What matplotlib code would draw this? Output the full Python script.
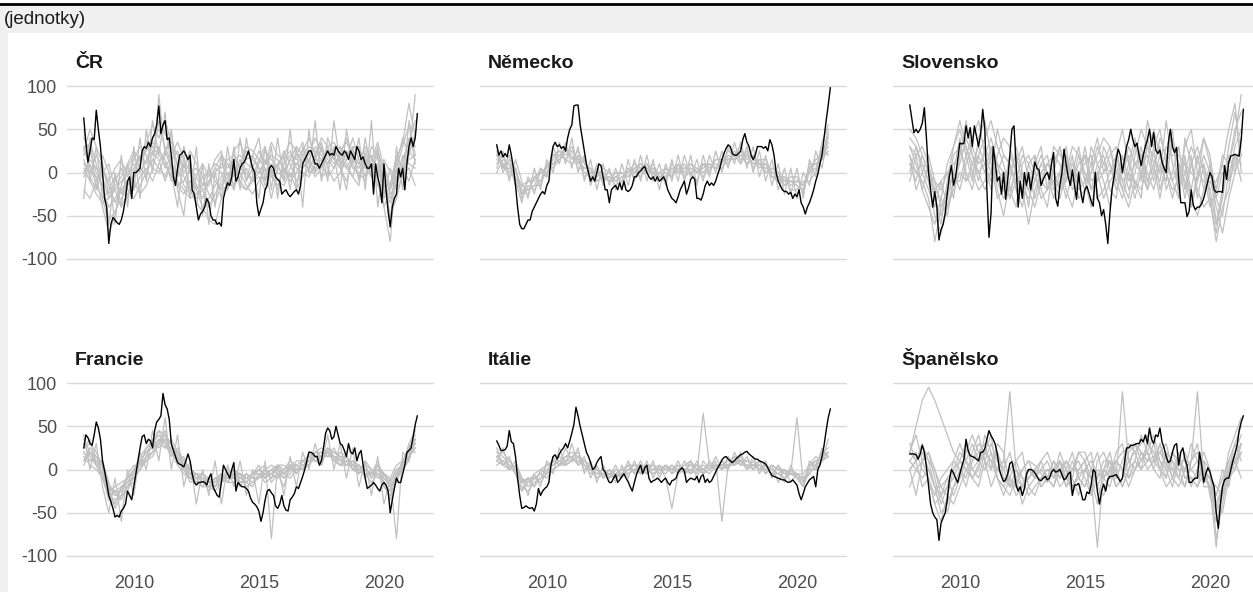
import numpy as np
import matplotlib
matplotlib.use("Agg")
import matplotlib.pyplot as plt
from matplotlib.patches import Rectangle
from matplotlib.lines import Line2D

plt.rcParams["font.family"] = ["Liberation Sans", "DejaVu Sans"]
plt.rcParams["axes.unicode_minus"] = False

W, H = 1253, 592

unit_label = "(jednotky)"
titles = ["ČR", "Německo", "Slovensko", "Francie", "Itálie", "Španělsko"]
year_ticks = [2010, 2015, 2020]
value_ticks = [-100, -50, 0, 50, 100]

# monthly index for each country, Jan 2008 - May 2021
cz_main = [63, 35, 12, 25, 40, 38, 72, 50, 30, 0, -30, -40,
           -82, -60, -52, -55, -58, -60, -55, -45, -30, -10, -5, -30,
           0, 0, 2, 5, 25, 30, 28, 35, 30, 40, 45, 55,
           77, 45, 55, 60, 38, 40, 20, -5, -15, 5, 20, 22,
           25, 20, 15, 20, -20, -25, -40, -55, -48, -45, -40, -30,
           -35, -50, -55, -55, -60, -58, -62, -30, -20, -12, -15, -5,
           15, -10, -5, 5, 10, 12, 18, 25, 15, 5, 0, -35,
           -50, -42, -35, -20, -15, 5, 8, 5, -5, -8, -10, -25,
           -22, -20, -25, -28, -25, -22, -20, -25, -15, 10, 15, 20,
           25, 25, 18, 10, 10, 5, 10, 15, 20, 25, 20, 22,
           20, 30, 25, 22, 20, 25, 22, 15, 25, 20, 15, 30,
           25, 15, 18, 10, 5, 5, 10, -25, 10, -5, -15, -35,
           10, -20, -45, -63, -40, -30, -25, 5, -5, 5, -20, 10,
           30, 40, 30, 40, 68]
de_main = [32, 20, 25, 18, 22, 18, 32, 20, 5, -15, -40, -60,
           -65, -65, -60, -55, -55, -45, -40, -35, -30, -25, -22, -25,
           -15, -10, 15, 30, 35, 30, 32, 28, 30, 25, 40, 50,
           55, 77, 78, 78, 55, 40, 25, 10, 0, -10, -5, -10,
           0, 10, 8, -5, -20, -20, -35, -20, -17, -15, -20, -12,
           -20, -10, -20, -22, -20, -15, -5, -5, 0, 2, 5, 7,
           0, -5, -8, -5, -10, -5, -10, -8, -5, -10, -20, -25,
           -30, -32, -35, -28, -20, -15, -10, -25, -18, -8, -5, -8,
           -30, -30, -32, -25, -15, -10, -15, -12, -15, -10, -2, 5,
           15, 22, 28, 32, 30, 22, 20, 20, 22, 25, 38, 45,
           35, 30, 20, 15, 20, 30, 30, 30, 28, 30, 25, 38,
           32, 20, 0, -10, -15, -20, -22, -22, -25, -23, -30, -25,
           -28, -20, -35, -40, -48, -40, -35, -28, -20, -10, -2, 10,
           20, 40, 60, 78, 98]
sk_main = [78, 62, 46, 50, 46, 50, 57, 75, 40, 0, -20, -40,
           -22, -40, -78, -66, -60, -47, -24, -4, 8, -15, -5, 15,
           34, 33, 34, 54, 40, 52, 30, 54, 42, 30, 45, 73,
           50, -20, -75, -47, 30, 12, -10, -5, -25, 0, -31, -8,
           20, 50, 54, 10, -40, -10, -30, 0, -15, 0, -20, -5,
           12, 5, 3, -15, -8, -3, 0, -8, 10, 23, -30, -39,
           -15, 0, 27, 10, -5, -15, 3, -15, -31, 0, -22, -35,
           -20, -16, -24, -33, -39, 0, -30, -35, -50, -43, -60, -82,
           -47, -20, -5, 15, 27, 20, 0, 15, 30, 38, 50, 38,
           30, 34, 20, 8, 20, 30, 38, 50, 30, 46, 26, 22,
           26, 12, 5, 0, 34, 50, 30, 23, 29, -8, -35, -35,
           -35, -51, -45, -20, -38, -43, -40, -40, -36, -30, -20, -10,
           0, -5, -20, -23, -22, -22, -23, 8, -8, 12, 19, 20,
           21, 20, 19, 38, 73]
fr_main = [25, 40, 37, 30, 28, 40, 55, 48, 35, 10, -2, -15,
           -30, -37, -45, -55, -53, -55, -48, -45, -40, -25, -30, -35,
           -20, -5, 10, 25, 38, 40, 30, 35, 33, 25, 45, 55,
           58, 62, 88, 75, 70, 58, 30, 22, 15, 8, 6, 5,
           3, 10, 18, 10, -5, -15, -18, -15, -15, -14, -15, -18,
           -10, -5, -20, -25, -30, -32, -15, 5, 0, -5, -10, 0,
           8, -25, -15, -18, -20, -20, -22, -25, -33, -38, -40, -43,
           -48, -60, -50, -35, -25, -23, -27, -30, -42, -45, -40, -30,
           -42, -47, -48, -35, -32, -28, -20, -22, -15, -8, 0, 10,
           20, 20, 18, 15, 15, 5, 10, 25, 42, 48, 45, 35,
           38, 50, 40, 30, 28, 22, 15, 30, 20, 18, 25, 10,
           18, 22, 5, -10, -22, -20, -18, -15, -18, -22, -25, -18,
           -15, -18, -25, -50, -35, -22, -10, -15, -15, -5, 5, 20,
           22, 25, 38, 52, 62]
it_main = [33, 28, 22, 22, 23, 27, 45, 32, 30, 15, -10, -30,
           -45, -44, -42, -44, -45, -44, -48, -40, -22, -30, -25, -22,
           -20, -15, 5, 15, 17, 12, 18, 22, 25, 30, 25, 33,
           42, 52, 72, 62, 50, 40, 30, 20, 15, 8, 0, 2,
           8, 12, 15, 0, -3, -10, -15, -15, -10, -6, -15, -12,
           -8, -5, -10, -14, -20, -25, -15, -6, 0, 5, -5, 2,
           5, -10, -15, -13, -12, -10, -12, -15, -12, -10, -15, -18,
           -13, -12, -10, -3, 0, 2, -2, -15, -12, -10, -11, -12,
           -8, -15, -8, -6, -15, -11, -15, -13, -8, -3, 2, 6,
           11, 14, 15, 12, 10, 8, 10, 13, 15, 17, 18, 20,
           21, 18, 16, 14, 12, 12, 10, 9, 8, 6, 2, -3,
           -7, -8, -9, -10, -11, -12, -12, -14, -15, -14, -12, -15,
           -18, -28, -35, -28, -20, -16, -12, -10, -8, -20, 0, 5,
           15, 28, 45, 60, 70]
es_main = [18, 18, 18, 17, 12, 18, 28, 20, 3, -18, -40, -50,
           -55, -58, -82, -62, -56, -50, -35, -12, 0, -4, -10, -15,
           -5, 4, 12, 35, 22, 16, 15, 14, 12, 10, 20, 20,
           24, 35, 45, 39, 35, 29, 18, 0, -8, -14, -12, -5,
           7, 9, -2, -18, -25, -20, -30, -22, -5, 0, 0, -1,
           -4, -8, -12, -13, -10, -8, -12, -10, -3, 0, -3, -2,
           0, -6, -12, -10, -5, -3, -30, -18, -18, -16, -25, -35,
           -35, -26, -28, -18, 0, -3, -25, -40, -25, -17, -25, -12,
           -8, -8, -7, -6, -10, -14, -10, 8, 25, 25, 28, 28,
           29, 30, 30, 35, 32, 40, 30, 48, 35, 30, 40, 38,
           48, 32, 25, 15, 8, 10, 20, 28, 30, 5, 20, 25,
           12, 5, -15, -15, -12, -10, -10, 20, 5, -15, -5, 2,
           -3, -12, -20, -50, -68, -40, -20, -12, -10, -10, 0, 10,
           18, 28, 45, 55, 62]

# quarterly component series (2008Q1 - 2021Q2)
cz_parts = [
    [20, 35, 10, -20, -40, -30, -20, -10, 5, 15, 25, 40, 50, 30, 10, -10, -20, -30, -25, -15, -10, 0, 10, 5, 15, 20, 10, 5, 0, 10, 20, 15, 5, -5, 10, 20, 30, 25, 15, 20, 10, 15, 25, 5, 0, -10, 15, 5, -20, -35, -10, 10, 40, 30],
    [5, -10, -25, -35, -30, -20, -10, 0, 10, 0, 15, 30, 20, 10, -5, -15, -25, -10, -20, -5, 0, 10, 5, 15, 20, 5, 0, -10, 10, 25, 15, 5, 0, 15, 10, 5, 15, 30, 20, 10, 25, 15, 5, 20, 10, 5, -5, 10, -15, -30, -5, 5, 20, 45],
    [40, 25, 0, -15, -55, -45, -30, -15, -5, 10, 30, 20, 60, 45, 30, 10, -5, -20, -35, -45, -30, -15, -5, 10, 5, -10, -20, -5, 15, 5, -5, 10, 20, 35, 25, 10, 5, 20, 40, 30, 15, 5, 25, 10, -5, 10, 20, -10, -40, -20, 0, 15, 35, 60],
    [-5, 10, -15, -30, -20, -5, -25, -10, -20, -5, 5, -10, 10, 25, 5, -15, -10, 5, -5, -20, -15, 5, 20, 10, -5, 10, 25, 15, 5, -15, 0, 10, -10, 5, 20, 35, 10, -5, 5, 25, 15, 30, 10, -5, 20, 15, 0, -15, -25, 5, -10, 20, 10, 5],
    [10, 0, 20, 5, -15, -35, -20, -30, 0, 20, 10, 35, 25, 15, -10, -5, 10, -15, -30, -20, -40, -25, -10, 0, -15, -5, 5, -10, 0, 15, -5, -15, 5, -10, 0, 15, 20, 40, 25, 15, 5, 25, 35, 20, 30, 10, 5, 25, 0, -25, -15, 5, 25, 15],
    [-20, -30, -10, 5, -10, 5, 15, -5, 15, 30, 20, 5, 30, 5, 20, 35, 15, 0, 5, -15, 5, -10, -20, -15, 0, 15, -10, 5, 25, 10, 35, 20, 15, 25, 5, 0, -5, 10, 5, 30, 35, 20, 40, 15, 10, 30, 15, 35, 5, -15, 20, 5, -10, 15],
    [25, 50, 30, 10, -25, -10, 5, -20, -30, -15, 0, 15, 5, -5, 15, 25, 5, 25, 10, -5, -25, -35, -15, -5, 10, -15, -20, -10, -5, -20, 5, -10, -15, 0, -20, -5, 5, 15, 35, 5, -10, 0, 15, 40, 15, -5, 30, 20, -10, -50, -30, 0, 15, 20],
    [0, 15, 5, -5, -30, -15, -5, 10, 25, 15, 35, 55, 40, 60, 35, 20, 0, 10, -15, -30, -10, 5, 0, -20, 25, 35, 15, 20, 5, -10, 10, 0, -5, 15, 30, 20, 0, 5, 15, 10, 20, 5, -10, 15, 5, 20, -5, 0, 10, -20, 5, 30, 55, 10],
    [15, -5, -20, 0, 10, -20, -40, -25, -10, -25, -15, 5, 0, 20, 45, 5, -15, -25, -5, 10, -5, 15, 25, -5, -20, 5, 30, 25, 15, 30, 0, -20, 10, 20, 15, 25, 40, 20, -5, 0, 30, 10, 20, 30, 25, 5, 10, -5, 15, 0, -20, -5, 5, -15],
    [30, 5, -5, -40, -70, -50, -15, 5, 20, 5, -5, 25, 15, -10, 10, 0, 30, 5, -20, -40, -55, -60, -30, -10, 5, 0, -15, -25, -10, 5, -30, 5, 25, 10, -10, 5, 15, 0, 10, -5, 5, 20, 5, -5, -15, 25, 5, 30, -30, -15, 15, 35, 80, 40],
    [50, -10, 30, -30, -60, 0, -40, 10, -20, 40, -10, 60, 20, 70, 0, -40, 20, -30, 30, -50, 10, -40, 20, -20, 30, -20, 40, 0, -30, 30, -20, 40, -10, 50, -20, 30, 0, 60, -10, 40, 20, -20, 50, 10, 40, -20, 60, -40, 10, -60, 30, -20, 60, 20],
    [-30, 40, -20, 20, 0, -60, 20, -40, 30, -30, 50, 0, 90, 20, 50, -20, -50, 20, -40, 10, -60, 0, -30, 30, -20, 40, -10, 20, 40, -10, 30, -30, 20, -20, 30, -40, 50, 0, 30, -10, 60, 10, -20, 30, -10, 40, 0, 20, -40, -80, 10, 40, 20, 90],
]
de_parts = [
    [30, 5, 20, -10, -35, -5, -25, 5, -5, 30, 10, 35, 5, 30, -10, 15, -20, 10, -15, 5, -20, 15, -10, 20, -10, 15, -20, 10, -10, 20, -10, 20, -15, 20, -5, 25, 0, 30, 10, 35, 5, 30, -5, 20, -15, 10, -25, 5, -30, 0, -15, 25, 5, 45],
    [5, 25, -10, 15, -10, -30, 5, -20, 15, 0, 35, 10, 40, 0, 20, -15, 10, -15, 5, -20, 10, -15, 15, -10, 20, -10, 10, -15, 15, -10, 20, -5, 15, -10, 20, 0, 25, 5, 35, 10, 30, 0, 25, -10, 15, -20, 5, -25, 5, -30, 15, -5, 30, 20],
    [20, 10, -5, 5, -25, -20, -15, -15, 10, 10, 15, 25, 25, 15, 5, 5, -10, -5, -10, 0, 0, -5, 5, 10, 0, 5, -10, -5, 5, 0, 5, 10, 0, 10, 0, 15, 15, 10, 25, 15, 20, 10, 15, 0, 5, 0, -15, -10, -15, -20, 0, 15, 20, 35],
    [0, 15, 10, -15, -15, -10, -5, 0, -5, 20, 25, 15, 10, 20, 0, -5, 5, -10, -5, -15, -10, 5, -5, 0, 10, -5, 0, 5, -5, 10, -5, 0, 5, 0, 10, 5, 5, 20, 15, 25, 10, 20, 5, 10, -5, -10, -5, -20, -20, -10, -10, 0, 35, 55],
    [25, 0, 15, 5, -30, -15, -20, -10, 0, 15, 25, 20, 30, 10, 15, -10, -5, 5, 0, -10, -5, 0, 10, 5, 0, 10, -5, -10, 10, 0, 10, 0, -10, 10, 10, 5, 10, 25, 20, 10, 25, 5, 15, 15, 0, -5, -15, -5, -5, -25, 10, 10, 15, 25],
    [10, 20, 0, 5, -20, -25, -5, -10, 10, 5, 15, 30, 15, 25, 10, 0, -5, 0, -10, -5, -10, 5, 0, 5, 10, 0, -10, 5, 0, 10, 0, 10, 5, -5, 5, 15, 15, 10, 20, 30, 15, 20, 10, 5, 0, -5, -5, -15, -10, -15, 0, 5, 25, 40],
    [15, 10, 10, -5, -25, -10, -10, 5, 0, 10, 20, 25, 20, 5, 5, 5, -10, -5, -5, -10, -5, 0, 5, -5, 5, 5, -5, 0, -5, 5, 5, 5, 0, 10, 5, 10, 5, 15, 20, 20, 10, 15, 10, 0, 5, 0, -10, -10, -15, -20, 5, 15, 20, 30],
    [20, 5, 5, 0, -15, -20, -15, 0, 5, 20, 20, 15, 25, 15, -5, 0, 0, -5, -10, -5, 0, -5, 0, 10, 5, 0, 0, -5, 5, 5, -5, 5, 0, 5, 10, 5, 15, 15, 15, 20, 20, 10, 10, 10, -5, -5, -10, -10, -10, -15, 5, 10, 15, 50],
]
sk_parts = [
    [30, 10, -20, -40, -60, -30, 10, 30, 50, 20, -10, 40, 60, 20, -20, -50, -10, 30, 0, -40, 20, -20, -40, 10, 30, -10, 20, -30, -20, 30, 10, -10, -40, 20, 50, 10, 40, -10, 60, 30, -20, 10, 50, -30, 20, -40, -10, 40, 10, -60, -20, 30, 70, 20],
    [10, -10, 20, 0, -30, -50, -20, 0, -20, 10, 30, 10, 20, 40, 10, 0, -30, -10, 20, 10, -10, 10, 20, -20, -10, 20, -10, 10, 20, -20, -10, 30, 10, -20, 0, 30, 10, 20, -20, 0, 40, 20, -10, 10, -30, 10, 30, 0, -40, -20, 10, -10, 30, 50],
    [40, 30, 10, -10, -50, -70, -40, -10, 10, 40, 20, -10, 30, 10, -30, -20, 20, 0, -20, -30, -10, 10, 0, -10, -30, 0, 30, 20, -10, 10, 40, 0, 20, 30, -10, -30, 20, 50, 30, 0, -10, 30, 20, 20, 10, -20, 20, -20, -10, -30, -50, 0, 20, -10],
    [-10, 20, 30, 10, -20, -10, -40, -20, 0, -10, 10, 30, 10, -10, 0, 20, 10, -20, -40, 0, -30, 0, 10, 20, 10, -20, -40, 0, 10, 20, -30, -20, 0, 10, -20, 10, -10, -20, 10, 50, 20, 0, -20, -10, 30, 50, 0, -10, -20, -60, -30, 20, 0, 40],
    [20, 0, -10, -30, -80, -40, -20, 20, 30, 0, -20, 20, 40, 60, 30, 10, -20, -40, 10, 20, 0, -30, -20, 30, 20, 10, 0, -20, -10, 0, 20, 40, 30, -10, -30, 0, 30, 20, 0, -20, 10, -10, 40, 10, 0, -30, -50, -20, 10, -20, 20, 10, 40, 90],
    [0, 30, 0, -20, -40, -10, 0, -30, 20, 30, 0, -20, -10, 20, 10, -20, 0, 20, -10, -20, 10, 30, -20, 0, -20, 10, 10, -10, 30, -10, 0, -30, -10, 0, 10, -20, 0, 30, -10, 10, 30, -20, 0, 30, -20, 20, -30, 10, -30, -80, -40, -20, 20, 10],
    [30, 20, -20, 10, -30, -60, -10, 30, 60, 30, 10, 0, -20, 0, 50, 20, 10, -10, 0, -20, -40, -10, 10, 0, 30, 0, -10, 20, 0, -20, 10, 20, -20, -30, 20, -10, 10, 0, 30, 20, 0, 60, 10, -20, 0, 30, 10, 40, 20, -30, 0, -10, 10, 30],
    [10, 0, 10, -10, -20, -30, -50, -10, -10, 20, 40, 60, 20, 0, -10, 0, -30, 10, 30, -10, 0, 20, 0, -30, 0, 30, -20, -10, 20, 10, -10, 0, 10, -10, 0, 20, -20, 10, 20, -10, 20, 0, -30, 0, 10, 0, -10, 20, 0, -40, -70, -30, 0, 20],
    [20, -20, 0, 20, -10, -40, -30, 0, 40, -10, 0, 20, 0, 30, -10, -30, -20, 0, -30, 10, 20, -10, -20, -10, 0, -30, 0, 30, -10, -40, 0, 10, 30, 0, -20, -40, -10, -30, 40, 10, -30, 10, 30, 10, -10, -40, 0, 10, -20, -10, 10, 50, 80, 0],
    [50, 40, 20, 0, -10, -20, 0, 10, 20, 60, 20, 0, 10, -20, 20, 40, 30, 0, -20, -60, -20, 0, 10, 0, -20, -10, 10, 0, -20, 0, 30, 10, 0, 20, -10, 0, -30, 0, -20, 30, 50, 10, -10, -30, 40, 10, -20, -40, -30, -70, -20, 10, 50, 70],
]
fr_parts = [
    [30, 15, 5, -10, -35, -40, -20, -10, 0, 15, 25, 35, 45, 40, 20, 10, 0, -10, -15, -20, -20, -10, -5, -15, 0, -15, -10, -5, 5, -10, 0, 5, 0, 5, -5, 10, 15, 20, 25, 20, 10, 5, 15, 0, 5, -10, 0, -5, -20, -30, -10, 10, 25, 40],
    [10, 25, 15, 5, -20, -25, -35, -20, -10, 0, 10, 20, 30, 25, 35, 20, 10, 0, -5, -15, -20, -25, -15, -5, -10, -5, -20, -15, -10, 0, -10, -5, -10, -5, 5, 0, 5, 15, 10, 25, 20, 15, 5, 10, -5, 5, -10, 5, -5, -15, 0, 0, 15, 25],
    [25, 30, 20, 5, -30, -35, -30, -25, -5, 10, 20, 30, 40, 30, 25, 20, 5, -5, -15, -5, -10, -20, -10, -5, 0, -10, -15, -20, -5, -15, -10, 5, 5, 0, 10, 10, 5, 20, 20, 15, 25, 10, 5, 10, 0, -5, -15, -5, -15, -25, -5, 5, 30, 45],
    [15, 5, 0, -10, -25, -20, -15, -10, 0, 5, 15, 20, 30, 45, 20, 10, 0, -15, -10, -20, -10, -15, -5, -15, -15, -10, -5, -10, 0, 5, -15, -5, -20, 5, -5, 10, 15, 10, 5, 25, 10, 20, 15, 0, -5, 10, 0, -10, -5, -10, 5, 10, 20, 20],
    [35, 20, 10, 10, -20, -45, -30, -5, 5, 0, 15, 35, 25, 35, 30, 10, 15, -5, -5, -10, -25, -10, -10, -15, -5, -20, -5, -10, -10, 0, 5, 0, -5, -10, 0, 0, 20, 10, 15, 20, 10, 5, 5, 10, 5, 0, -5, 5, -15, -35, -10, 0, 10, 35],
    [5, 20, 5, -5, -30, -25, -20, -20, -15, 10, 20, 25, 35, 30, 15, 25, 10, 0, -5, -5, -15, -15, -10, 0, -10, -15, -15, -5, -5, -5, -5, -10, 0, 10, 5, 0, 10, 15, 20, 15, 20, 15, 15, 5, 0, -5, -5, 10, -10, -20, -15, 5, 20, 30],
    [20, 10, 15, 0, -35, -25, -25, -15, 0, 5, 25, 30, 45, 30, 20, 5, -5, -10, -15, -15, -10, -20, -15, -10, -5, -5, -10, -15, -5, -10, 0, 0, -10, 0, 5, 10, 10, 15, 10, 20, 15, 10, 10, 5, 0, 0, -10, 0, -5, -15, 0, 5, 25, 35],
    [25, 35, 5, 10, -15, -30, -25, -10, -5, 5, 10, 15, 30, 40, 30, 15, 5, 0, -10, -10, -20, -10, -15, -5, 0, -5, -10, -5, 0, -10, -5, 5, -5, 0, 0, 5, 5, 15, 15, 25, 15, 5, 10, 0, 0, 5, 0, -5, -15, -25, -5, 10, 15, 30],
    [20, 10, 10, -5, -25, -40, -20, -15, -10, 0, 15, 20, 35, 25, 25, 15, 0, -5, -10, -5, -15, -10, -10, -10, -5, -10, -5, -10, -10, -5, -5, 0, -5, 5, 0, 5, 10, 10, 10, 20, 15, 15, 5, 5, 5, -5, -5, 0, -10, -20, -5, 0, 15, 25],
    [10, 20, 15, 5, -20, -30, -30, -20, -5, 10, 20, 25, 35, 35, 20, 20, 5, -10, -5, -15, -15, -20, -5, -10, -10, -5, -15, -5, 0, -5, 0, -5, -5, 5, 5, 0, 10, 20, 15, 15, 15, 10, 15, 5, -5, 0, -5, 5, -5, -20, -10, 5, 25, 35],
    [40, 0, 30, -20, -50, -10, -60, 0, -30, 20, 0, 45, 10, 60, 0, 40, -20, 10, -40, 0, -30, 10, -40, 5, -20, 10, -30, 0, -40, 10, -80, 5, -30, 15, -20, 20, 0, 30, 5, 40, 0, 30, -10, 25, -20, 10, -30, 15, -40, -10, -80, 20, 10, 50],
]
it_parts = [
    [25, 5, 15, -5, -25, -10, -20, 0, -5, 15, 5, 25, 10, 25, -5, 10, -15, 5, -10, 5, -10, 10, -5, 10, -5, 10, -10, 5, -5, 10, -5, 10, -10, 10, 0, 15, 0, 15, 5, 20, 0, 15, -5, 10, -10, 5, -15, 5, -10, -20, 5, 15, 10, 35],
    [10, 25, 0, 10, -10, -30, -5, -20, 10, -5, 25, 5, 30, 5, 15, -10, 5, -10, 0, -15, 5, -10, 10, -5, 10, -10, 5, -10, -45, -5, 10, -5, 10, -5, 10, 0, 10, 0, 20, 5, 15, 0, 10, -5, 5, -15, 0, -15, -5, -20, 10, 0, 25, 15],
    [15, 5, 10, 0, -15, -10, -20, -10, -5, 10, 5, 15, 15, 5, 10, 5, 0, -5, -10, 0, -5, -5, 0, 5, 0, -5, 0, 5, -5, 0, 5, 10, 0, -5, 0, 10, -60, 5, 5, 10, 10, 5, 10, 5, 0, -5, -10, -5, -5, -10, -5, 5, 20, 15],
    [20, 15, 5, 0, -10, -15, -5, 0, 5, 5, 15, 10, 10, 15, 0, 5, -10, -5, 0, -5, 0, 5, -5, 0, -5, 0, 5, 0, 5, -5, 0, 5, 5, 0, -5, 5, 5, 0, 15, 10, 0, 5, 5, -5, 5, 0, 0, -5, 60, -15, 5, 10, 15, 20],
    [10, 5, 0, 5, -20, -25, -15, -10, 0, 5, 10, 15, 20, 15, 5, 0, -5, -5, -10, -5, -10, 0, 0, -5, 5, 5, -5, 5, 0, 5, -5, 0, -5, 65, 5, 0, 5, 10, 5, 10, 5, 0, 5, 0, -5, 5, -5, -5, -10, -10, 0, 0, 10, 15],
    [15, 20, 10, 0, -15, -10, -10, -5, -10, 0, 5, 5, 10, 10, 5, -5, 0, -10, -5, -10, -5, 5, 5, 0, 0, -5, 0, 0, 0, 0, 5, 5, 0, 5, 0, 5, 0, 5, 10, 5, 5, 5, 0, 5, 0, -5, 0, -5, -5, -5, 5, 5, 20, 25],
    [5, 10, 5, -5, -25, -15, -10, -15, -5, 0, 5, 10, 15, 20, 5, 0, -5, 0, -5, -10, -5, 0, 5, 5, 0, 5, 0, -5, 5, 0, 0, 0, 5, 0, 5, 5, 5, 5, 15, 10, 10, 5, 5, 0, 5, 0, -5, 0, -5, -15, -5, 5, 10, 20],
    [15, 10, 0, 5, -10, -20, -10, -5, 5, 10, 10, 5, 10, 15, 10, 0, -10, -5, -5, -5, 0, -5, 0, 0, 5, 0, 0, 5, 0, 5, 0, -5, 0, 0, 5, 0, 10, 5, 5, 15, 0, 10, 0, 5, -5, -5, -10, 0, -10, -20, 0, 10, 10, 15],
]
es_parts = [
    [20, 50, 80, 95, 80, 60, 40, 20, 10, 0, -10, 5, 20, 10, 0, -10, -20, -10, 0, 10, 5, -5, -15, 0, 10, -10, -20, -5, 0, 10, -5, -10, 0, 10, 20, 25, 30, 20, 10, 15, 20, 5, 0, 10, 0, -10, -20, -5, -10, -40, -20, 0, 20, 40],
    [0, 10, -20, -10, -40, -30, -10, 0, 20, 10, 30, 10, 0, 20, -10, -20, -30, -10, -20, 0, -10, 10, 20, 0, 10, -20, 0, 20, 10, -30, -10, 0, 20, -10, 10, 30, 20, 30, 40, 10, 0, 20, 10, -10, 20, 0, -10, 10, -30, -60, -30, -10, 10, 20],
    [30, 10, 20, 0, -20, -50, -40, -20, -10, 20, 40, 20, 30, 0, 20, -10, -10, -30, -20, -10, 0, -20, -10, 10, -10, 0, 20, -10, -20, 0, 20, -10, 10, -20, -10, 20, 30, 10, 20, 40, 10, -10, 20, 0, -20, 10, 30, -20, -20, -40, -50, -10, 0, 30],
    [-20, 0, 10, 20, 0, -20, -30, -40, -20, 0, -10, -20, 10, 30, 10, 0, 20, -10, -40, -20, -10, 0, -10, -20, 0, 10, -10, -30, 0, -10, -40, 0, -10, 0, -20, 0, 10, 40, 20, 0, 30, 10, -10, -20, 0, 30, 10, 0, -10, -20, -30, 10, 30, 10],
    [10, 20, 0, -10, -30, -10, 0, 10, 0, -20, 10, 30, 20, 10, -10, -20, 0, 10, -10, -30, -20, -10, 0, -10, 20, 0, -30, 0, 10, 20, -20, -30, 0, 10, 0, -10, 0, 10, 30, 20, 10, 0, -20, 10, 10, -20, 0, 20, 0, -80, -40, 0, 10, -10],
    [0, -30, 10, 20, -10, -40, -20, 10, 30, 10, -10, 0, 40, 20, 0, 10, -10, 10, 20, -20, -30, -10, 0, 0, -20, -10, 0, 10, -10, -30, 10, 20, 0, -20, -10, 10, 20, 0, 10, 30, 0, -20, -10, 20, -10, 0, 10, -10, -20, -30, 0, -20, 20, 30],
    [20, 10, 30, 10, -20, -30, -50, -20, 0, -10, 20, 40, 10, 0, 30, 20, -20, 0, -10, -10, 0, -20, -10, 10, 0, -10, 10, -10, -20, 0, -10, 10, 10, 0, -20, 0, 30, 20, 0, 10, 20, 30, 0, -10, -20, 10, 20, 0, -20, -50, -20, 0, 30, 50],
    [10, 0, -10, 0, -20, -20, -10, -30, -10, 10, 0, 10, 20, 40, -10, -30, -10, -20, 0, 10, -10, -10, 0, 0, -10, 10, 0, 0, 10, -10, 0, -10, -20, 10, 0, -20, 0, 20, 10, 10, 30, 0, 10, 0, 0, -10, -10, 0, -10, -30, -10, 10, 0, 20],
    [20, 40, 10, -10, -40, -60, -30, 0, 10, 30, 0, -10, 20, 10, 20, 0, -20, -20, -30, 0, -10, 0, 10, -10, 0, -20, -10, 20, 20, 0, -20, 0, -10, 20, 30, -10, 10, 0, 30, 20, 0, -10, 20, 10, -10, -10, -20, 10, 0, -40, -20, 20, 40, 60],
    [0, 10, 20, 10, 0, -30, -20, -10, 10, 0, 10, 20, 10, -20, 0, 10, 90, 0, -20, -10, 0, 10, -10, -20, 10, 0, -20, -10, 0, -10, -90, 0, 10, -10, 90, 10, 0, 10, 20, 0, -10, 20, -10, 10, 0, 10, 90, -10, -20, -90, -20, 0, 10, 30],
]

mains = [cz_main, de_main, sk_main, fr_main, it_main, es_main]
parts = [cz_parts, de_parts, sk_parts, fr_parts, it_parts, es_parts]

GRID = "#d9d9d9"
PART = "#c0c0c0"
TICK = "#4d4d4d"
TXT = "#1a1a1a"


def box(left, top, right, bottom):
    # pixel box -> figure fraction [l, b, w, h]
    return [left / W, 1 - bottom / H, (right - left) / W, (bottom - top) / H]


fig = plt.figure(figsize=(W / 100, H / 100), dpi=100)
fig.patch.set_facecolor("#f0f0f0")
fig.add_artist(Rectangle((0, 1 - 5 / H), 1, 5 / H, transform=fig.transFigure,
                         facecolor="white", edgecolor="none", zorder=-10))
fig.add_artist(Line2D([0, 1], [1 - 3.5 / H, 1 - 3.5 / H], transform=fig.transFigure,
                      color="black", lw=2, zorder=-9))
fig.add_artist(Rectangle((8 / W, 0), 1 - 8 / W, 1 - 33 / H, transform=fig.transFigure,
                         facecolor="white", edgecolor="none", zorder=-10))
fig.text(4 / W, 1 - 24 / H, unit_label, fontsize=13.5, color=TXT, va="baseline", ha="left")

col_left = [67, 480, 893]
row_top = [80, 377]
panel_w, panel_h = 367, 185

for i, (name, main, grp) in enumerate(zip(titles, mains, parts)):
    r, c = divmod(i, 3)
    left, top = col_left[c], row_top[r]
    ax = fig.add_axes(box(left, top, left + panel_w, top + panel_h))
    ax.set_facecolor("none")
    for s in grp:
        xs = 2008 + np.arange(len(s)) / 4
        ax.plot(xs, s, color=PART, lw=0.9, zorder=2)
    xm = 2008 + np.arange(len(main)) / 12
    ax.plot(xm, main, color="black", lw=1.0, zorder=3)

    ax.set_xlim(2007.33, 2022.0)
    ax.set_ylim(-107, 107)
    ax.set_yticks(value_ticks)
    ax.grid(axis="y", color=GRID, lw=1.0, zorder=1)
    ax.grid(axis="x", visible=False)
    for sp in ax.spines.values():
        sp.set_visible(False)
    ax.tick_params(length=0, labelsize=13, labelcolor=TICK)
    ax.tick_params(axis="y", pad=7)
    ax.tick_params(axis="x", pad=9)
    if c == 0:
        ax.set_yticklabels([str(v) for v in value_ticks])
    else:
        ax.set_yticklabels([])
    ax.set_xticks(year_ticks)
    if r == 1:
        ax.set_xticklabels([str(v) for v in year_ticks])
    else:
        ax.set_xticklabels([])
    ty = 68 if r == 0 else 365
    fig.text((left + 8) / W, 1 - ty / H, name, fontsize=14, fontweight="bold",
             color=TXT, va="baseline", ha="left")

fig.savefig("out.png", dpi=100, facecolor=fig.get_facecolor())
